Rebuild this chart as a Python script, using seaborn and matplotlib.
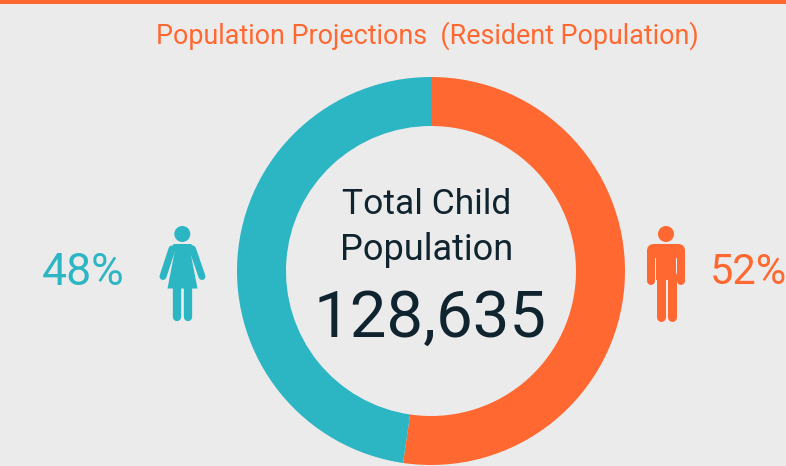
import matplotlib
matplotlib.use("Agg")
import matplotlib.pyplot as plt
from matplotlib.patches import Circle, FancyBboxPatch, Polygon
import seaborn as sns

W, H = 786, 466
BG = "#EBEBEB"
ORANGE = "#FF6830"
TEAL = "#2CB5C3"
DARK = "#10242F"

GROUPS = ["Male", "Female"]
SHARES = [52.3, 47.7]
LABELS = ["52%", "48%"]
TOTAL = "128,635"
TITLE = "Population Projections  (Resident Population)"

sns.set_theme(style="white", rc={"figure.facecolor": BG, "axes.facecolor": BG})
plt.rcParams["font.family"] = ["Roboto", "DejaVu Sans"]

fig = plt.figure(figsize=(W / 100, H / 100), dpi=100, facecolor=BG)

# overlay in pixel coordinates for the band, icons and text
ov = fig.add_axes([0, 0, 1, 1])
ov.set_xlim(0, W)
ov.set_ylim(H, 0)
ov.axis("off")

# donut
cx, cy, r = 431, 271, 194
ax = fig.add_axes([(cx - r) / W, 1 - (cy + r) / H, 2 * r / W, 2 * r / H])
palette = sns.color_palette([ORANGE, TEAL])
ax.pie(SHARES, colors=palette, startangle=90, counterclock=False, radius=1,
       wedgeprops={"width": 49 / 194, "linewidth": 0})
ax.set_xlim(-1, 1)
ax.set_ylim(-1, 1)
ax.set_aspect("equal")

ov.set_zorder(3)
ov.patch.set_alpha(0)

ov.add_patch(Polygon([(0, 0), (W, 0), (W, 4), (0, 4)], color=ORANGE, lw=0))


def limb(x0, y0, x1, y1, w, c):
    ov.plot([x0, x1], [y0, y1], color=c, lw=w * 72 / 100,
            solid_capstyle="round")


# female icon
ov.add_patch(Circle((182.3, 234), 8, color=TEAL, lw=0))
ov.add_patch(Polygon([(171, 247), (174, 244), (191, 244), (194, 247), (194, 252), (171, 252)],
                     closed=True, color=TEAL, lw=0))
ov.add_patch(Polygon([(175, 250), (190, 250), (197.5, 288.5), (167.5, 288.5)],
                     closed=True, color=TEAL, lw=0))
limb(172, 249, 163, 276.5, 7, TEAL)
limb(192.5, 249, 202, 276.5, 7, TEAL)
limb(176.5, 286, 176.5, 316.5, 8.3, TEAL)
limb(188, 286, 188, 316.5, 8.3, TEAL)

# male icon
ov.add_patch(Circle((666, 234), 8, color=ORANGE, lw=0))
ov.add_patch(FancyBboxPatch((647, 244), 38, 14, boxstyle="round,pad=0,rounding_size=7",
                            color=ORANGE, lw=0))
ov.add_patch(Polygon([(656, 250), (676, 250), (676, 280), (656, 280)], color=ORANGE, lw=0))
limb(651, 252, 651, 280.5, 8, ORANGE)
limb(681, 252, 681, 280.5, 8, ORANGE)
limb(660.5, 275, 660.5, 316.5, 9, ORANGE)
limb(671.7, 275, 671.7, 316.5, 9, ORANGE)

# text
ov.text(427, 36, TITLE, color=ORANGE, fontsize=19.4, ha="center", va="center")
ov.text(427, 205, "Total Child", color=DARK, fontsize=25.5, ha="center", va="center")
ov.text(427, 250, "Population", color=DARK, fontsize=26, ha="center", va="center")
ov.text(430, 319, TOTAL, color=DARK, fontsize=47, ha="center", va="center")
ov.text(83, 273, LABELS[1], color=TEAL, fontsize=32, ha="center", va="center")
ov.text(748, 273, LABELS[0], color=ORANGE, fontsize=30, ha="center", va="center")

fig.savefig("out.png", dpi=100, facecolor=BG)
